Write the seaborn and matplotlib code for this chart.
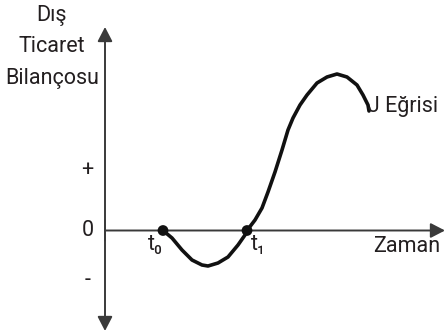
import matplotlib
matplotlib.use("Agg")
import matplotlib.pyplot as plt
import seaborn as sns
import pandas as pd

sns.set_theme(style="white")
plt.rcParams['font.family'] = ['Roboto', 'DejaVu Sans']

# J-curve (time, trade balance)
zaman = [5.8, 6.7, 7.7, 8.7, 9.7, 10.3, 11.3, 12.3, 13.3, 14.0, 14.2, 15.0, 15.7, 16.3, 17.0,
         17.7, 18.3, 18.8, 19.5, 20.2, 21.2, 22.2, 23.2, 24.2, 25.2, 25.8, 26.3, 26.4]
bilanco = [0.0, -0.75, -1.95, -2.95, -3.45, -3.55, -3.25, -2.65, -1.45, -0.45, 0.0, 1.05, 2.25, 3.85, 5.85,
           8.05, 10.05, 11.25, 12.55, 13.55, 14.75, 15.35, 15.65, 15.35, 14.55, 13.55, 12.55, 11.95]
nokta_x = [5.8, 14.2]
nokta_y = [0.0, 0.0]
nokta_etiket = ["t₀", "t₁"]
y_etiket = ["+", "0", "-"]
y_etiket_pos = [6.05, 0.0, -5.05]

df = pd.DataFrame({"Zaman": zaman, "Bilanco": bilanco})
dp = pd.DataFrame({"x": nokta_x, "y": nokta_y})

fig = plt.figure(figsize=(4.46, 3.36), dpi=100)
ax = fig.add_axes([0, 0, 1, 1])
ax.set_xlim(-10.5, 34.1)
ax.set_ylim(-10.55, 23.05)
ax.axis("off")

axis_col = "#3a3a3a"
arrow = dict(arrowstyle="-|>,head_length=0.58,head_width=0.3", color=axis_col, lw=1.4,
             shrinkA=0, shrinkB=0, mutation_scale=15)
ax.annotate("", xy=(0, 20.35), xytext=(0, -1), arrowprops=arrow)
ax.annotate("", xy=(0, -10.05), xytext=(0, 1), arrowprops=arrow)
ax.annotate("", xy=(34.0, 0), xytext=(0, 0), arrowprops=arrow)

sns.lineplot(data=df, x="Zaman", y="Bilanco", ax=ax, color="#111111", lw=2.6, sort=False,
             estimator=None, solid_capstyle="round", solid_joinstyle="round")
sns.scatterplot(data=dp, x="x", y="y", ax=ax, color="#111111", s=60, edgecolor="none", zorder=5)

tc = "#231f20"
fs = 15.5
ax.text(-5.3, 21.55, "Dış", ha="center", va="center", fontsize=fs, color=tc)
ax.text(-5.3, 18.35, "Ticaret", ha="center", va="center", fontsize=fs, color=tc)
ax.text(-5.3, 15.2, "Bilançosu", ha="center", va="center", fontsize=fs, color=tc)
for lab, yp in zip(y_etiket, y_etiket_pos):
    ax.text(-1.75, yp, lab, ha="center", va="center", fontsize=fs, color=tc)
for lab, xp in zip(nokta_etiket, nokta_x):
    off = -0.8 if lab == "t₀" else 1.1
    ax.text(xp + off, -1.45, lab, ha="center", va="center", fontsize=fs, color=tc)
ax.text(33.5, -1.6, "Zaman", ha="right", va="center", fontsize=fs, color=tc)
ax.text(26.3, 12.4, "J Eğrisi", ha="left", va="center", fontsize=fs, color=tc)

fig.savefig("out.png", dpi=100)
